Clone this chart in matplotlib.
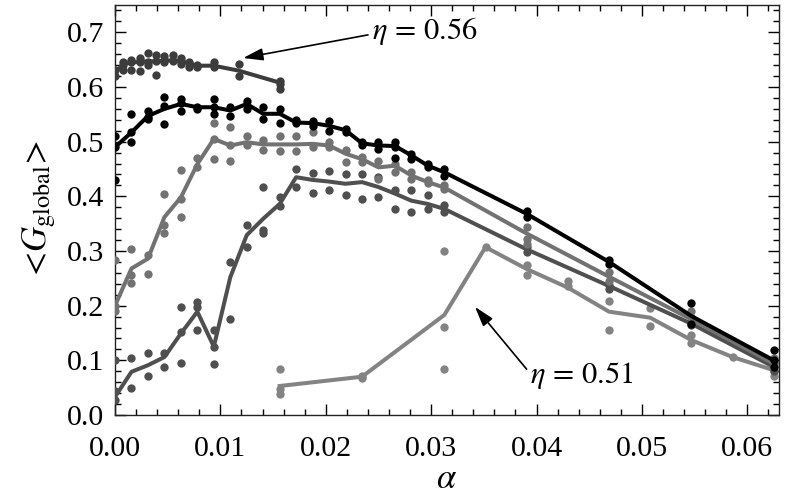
import matplotlib
matplotlib.use("Agg")
import matplotlib.pyplot as plt
from matplotlib.ticker import MultipleLocator, FormatStrFormatter
import numpy as np

plt.rcParams['font.family'] = ['Liberation Serif', 'DejaVu Serif']
plt.rcParams['mathtext.fontset'] = 'stix'

# grid step of alpha (alpha = k * STEP)
STEP = 0.0625 / 80

# ---- series 1 (eta = 0.56) ----
s1_k = [0, 1, 2, 3, 4, 5, 6, 7, 8, 9, 10, 12, 15, 20]
s1_y = [0.626, 0.642, 0.645, 0.646, 0.647, 0.647, 0.648, 0.649, 0.647, 0.643, 0.639, 0.639, 0.630, 0.608]
s1_dot_k = [0, 0, 1, 1, 1, 2, 2, 2, 3, 3, 3, 4, 4, 4, 5, 5, 5, 6, 6, 6, 7, 7, 8, 8, 8, 9, 9, 10, 10, 12, 12, 15, 15, 20, 20, 20]
s1_dot_y = [0.632, 0.620, 0.645, 0.632, 0.640, 0.649, 0.632, 0.645, 0.653, 0.629, 0.645, 0.663, 0.645, 0.640,
            0.658, 0.622, 0.648, 0.656, 0.645, 0.650, 0.658, 0.648, 0.653, 0.648, 0.642, 0.646, 0.636,
            0.636, 0.641, 0.645, 0.636, 0.642, 0.620, 0.611, 0.605, 0.596]

# ---- series 2 (black) ----
s2_k = [0, 2, 4, 6, 8, 10, 12, 14, 16, 18, 20, 22, 24, 26, 28, 30, 32, 34, 36, 38, 40, 50, 60, 70, 80]
s2_y = [0.490, 0.517, 0.547, 0.560, 0.569, 0.563, 0.563, 0.557, 0.569, 0.551, 0.551, 0.535, 0.534, 0.529,
        0.521, 0.497, 0.493, 0.492, 0.475, 0.456, 0.444, 0.368, 0.280, 0.181, 0.100]
s2_dot_k = [0, 0, 0, 2, 2, 2, 4, 4, 4, 6, 6, 6, 8, 8, 8, 10, 10, 12, 12, 12, 14, 14, 16, 16, 18, 18,
            20, 20, 22, 22, 24, 24, 26, 26, 28, 28, 30, 30, 32, 32, 34, 34, 34, 36, 36, 38, 38, 40, 40,
            50, 50, 60, 60, 70, 70, 80, 80, 80]
s2_dot_y = [0.511, 0.490, 0.430, 0.550, 0.517, 0.500, 0.557, 0.541, 0.545, 0.581, 0.532, 0.566,
            0.578, 0.557, 0.570, 0.563, 0.560, 0.578, 0.563, 0.550, 0.563, 0.547, 0.575, 0.560,
            0.563, 0.541, 0.560, 0.535, 0.535, 0.540, 0.538, 0.529, 0.537, 0.520, 0.523, 0.517,
            0.499, 0.493, 0.499, 0.487, 0.499, 0.490, 0.470, 0.478, 0.468, 0.459, 0.453, 0.450, 0.438,
            0.374, 0.362, 0.284, 0.277, 0.205, 0.167, 0.119, 0.088, 0.100]

# ---- series 3 (mid gray) ----
s3_k = [0, 2, 4, 6, 8, 10, 12, 14, 16, 18, 20, 22, 24, 26, 28, 30, 32, 34, 36, 38, 40, 50, 60, 70, 80]
s3_y = [0.200, 0.268, 0.286, 0.362, 0.398, 0.459, 0.505, 0.493, 0.499, 0.495, 0.495, 0.495, 0.496, 0.493,
        0.478, 0.468, 0.453, 0.456, 0.438, 0.426, 0.416, 0.332, 0.253, 0.175, 0.094]
s3_dot_k = [0, 0, 0, 2, 2, 2, 4, 4, 6, 6, 6, 8, 8, 8, 10, 10, 12, 12, 12, 14, 14, 14, 16, 16, 18, 18,
            20, 20, 22, 22, 24, 24, 26, 26, 28, 28, 30, 30, 32, 32, 34, 34, 36, 36, 38, 38, 40, 40,
            50, 50, 50, 60, 60, 70, 70, 80, 80]
s3_dot_y = [0.283, 0.200, 0.190, 0.304, 0.256, 0.242, 0.292, 0.257, 0.405, 0.347, 0.332, 0.448, 0.395, 0.362,
            0.471, 0.453, 0.535, 0.505, 0.468, 0.526, 0.493, 0.465, 0.511, 0.493, 0.503, 0.485,
            0.510, 0.483, 0.510, 0.483, 0.517, 0.490, 0.500, 0.490, 0.484, 0.462, 0.472, 0.462,
            0.465, 0.432, 0.459, 0.444, 0.444, 0.432, 0.430, 0.425, 0.420, 0.414,
            0.344, 0.322, 0.313, 0.262, 0.246, 0.190, 0.180, 0.105, 0.090]

# ---- series 4 (dark gray) ----
s4_k = [0, 2, 4, 6, 8, 10, 12, 14, 16, 18, 20, 22, 24, 26, 28, 30, 32, 34, 36, 38, 40, 50, 60, 70, 80]
s4_y = [0.033, 0.079, 0.091, 0.106, 0.149, 0.189, 0.125, 0.252, 0.329, 0.359, 0.386, 0.435, 0.430, 0.427,
        0.423, 0.426, 0.417, 0.405, 0.392, 0.386, 0.377, 0.303, 0.236, 0.167, 0.088]
s4_dot_k = [0, 0, 0, 2, 2, 4, 4, 6, 6, 8, 8, 8, 10, 10, 10, 12, 12, 12, 14, 14, 16, 16, 18, 18, 18,
            20, 20, 22, 22, 24, 24, 26, 26, 28, 28, 30, 30, 32, 32, 34, 34, 36, 36, 38, 38, 40, 40,
            50, 50, 60, 60, 70, 70, 80, 80]
s4_dot_y = [0.100, 0.043, 0.027, 0.105, 0.049, 0.114, 0.071, 0.113, 0.088, 0.198, 0.152, 0.096,
            0.207, 0.198, 0.156, 0.093, 0.125, 0.155, 0.280, 0.176, 0.347, 0.307, 0.417, 0.338, 0.333,
            0.398, 0.383, 0.450, 0.417, 0.442, 0.406, 0.447, 0.411, 0.441, 0.402, 0.441, 0.396,
            0.436, 0.399, 0.411, 0.377, 0.411, 0.372, 0.402, 0.377, 0.384, 0.372,
            0.307, 0.298, 0.237, 0.231, 0.170, 0.164, 0.095, 0.080]

# ---- series 5 (eta = 0.51, light gray) ----
s5_k = [20, 30, 40, 45, 50, 55, 60, 65, 70, 75, 80]
s5_y = [0.053, 0.070, 0.183, 0.307, 0.267, 0.233, 0.189, 0.178, 0.137, 0.106, 0.082]
s5_dot_k = [20, 20, 20, 30, 30, 40, 40, 40, 45, 50, 50, 55, 55, 60, 60, 65, 65, 70, 70, 75, 80, 80]
s5_dot_y = [0.085, 0.047, 0.038, 0.072, 0.068, 0.300, 0.161, 0.084, 0.307, 0.274, 0.256, 0.245, 0.236,
            0.209, 0.155, 0.195, 0.162, 0.146, 0.131, 0.106, 0.080, 0.072]

x_ticks = [0.00, 0.01, 0.02, 0.03, 0.04, 0.05, 0.06]
y_ticks = [0.0, 0.1, 0.2, 0.3, 0.4, 0.5, 0.6, 0.7]

series = [
    (s5_k, s5_y, s5_dot_k, s5_dot_y, '#838383'),
    (s4_k, s4_y, s4_dot_k, s4_dot_y, '#4f4f4f'),
    (s3_k, s3_y, s3_dot_k, s3_dot_y, '#727272'),
    (s2_k, s2_y, s2_dot_k, s2_dot_y, '#000000'),
    (s1_k, s1_y, s1_dot_k, s1_dot_y, '#3c3c3c'),
]

fig = plt.figure(figsize=(7.90, 5.01), dpi=100)
ax = fig.add_axes([0.1456, 0.1717, 0.986 - 0.1456, 0.99 - 0.1717])

for i, (lk, ly, dk, dy, c) in enumerate(series):
    ax.plot(np.array(dk) * STEP, dy, 'o', color=c, ms=6, mec='none', zorder=2 + i)
    ax.plot(np.array(lk) * STEP, ly, '-', color=c, lw=2.9, zorder=2.5 + i)

ax.set_xlim(0, 0.0630)
ax.set_ylim(0, 0.75)
ax.set_xticks(x_ticks)
ax.set_yticks(y_ticks)
ax.xaxis.set_major_formatter(FormatStrFormatter('%.2f'))
ax.yaxis.set_major_formatter(FormatStrFormatter('%.1f'))
ax.xaxis.set_minor_locator(MultipleLocator(0.002))
ax.yaxis.set_minor_locator(MultipleLocator(0.02))
ax.tick_params(which='both', direction='in', top=True, right=True, labelsize=21.5)
ax.tick_params(axis='x', which='both', pad=15)
ax.tick_params(axis='y', which='both', pad=8)
ax.tick_params(which='major', length=8, width=1.0)
ax.tick_params(which='minor', length=4.5, width=1.0)
for sp in ax.spines.values():
    sp.set_linewidth(1.0)
    sp.set_color('#222222')

ax.set_xlabel(r'$\alpha$', fontsize=25, labelpad=1)
ax.set_ylabel(r'$<\!G_{\mathrm{global}}\!>$', fontsize=25, labelpad=6)

arrow_kw = dict(arrowstyle='-|>,head_length=0.55,head_width=0.17', color='black', lw=1.2,
                shrinkA=1, shrinkB=0)
ax.annotate(r'$\eta\, = \,0.56$', xy=(0.01215, 0.653), xytext=(0.0244, 0.7026),
            fontsize=22, va='center', ha='left',
            arrowprops=dict(relpos=(0.0, 0.4), **arrow_kw))
ax.annotate(r'$\eta\, = \,0.51$', xy=(0.03416, 0.1977), xytext=(0.0394, 0.073),
            fontsize=22, va='center', ha='left',
            arrowprops=dict(relpos=(0.0, 0.55), **arrow_kw))

fig.savefig('out.png', dpi=100)
